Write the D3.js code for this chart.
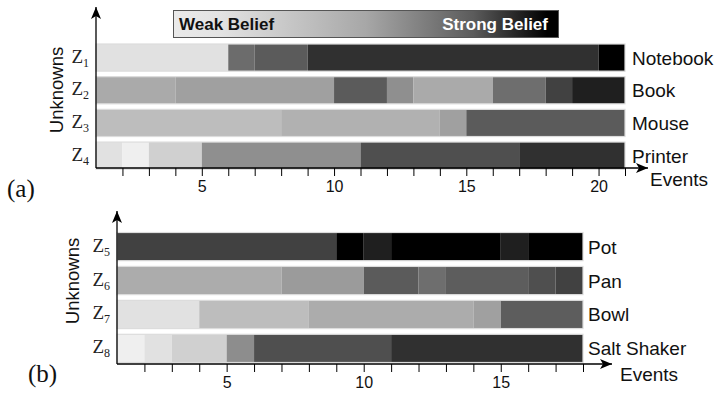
<!DOCTYPE html>
<html>
<head>
<meta charset="utf-8">
<script src="https://cdn.jsdelivr.net/npm/d3@7"></script>
<style>
  html, body { margin: 0; padding: 0; background: #fff; }
  svg { display: block; }
</style>
</head>
<body>
<svg id="chart" width="715" height="400"></svg>
<script>
// ---- Panel (a): office objects ----
const unknownsA = ["1", "2", "3", "4"];
const objectsA = ["Notebook", "Book", "Mouse", "Printer"];
const eventTicksA = [5, 10, 15, 20];
// Each row: event at which each belief segment ends, and the belief held over it
const endsA = [
  [6, 7, 9, 20, 21],
  [4, 10, 12, 13, 16, 18, 19, 21],
  [8, 14, 15, 21],
  [2, 3, 5, 11, 17, 21]
];
const beliefA = [
  [0.06, 0.55, 0.62, 0.80, 1.00],
  [0.29, 0.33, 0.62, 0.40, 0.29, 0.54, 0.73, 0.87],
  [0.21, 0.26, 0.33, 0.62],
  [0.06, 0.00, 0.13, 0.40, 0.67, 0.80]
];

// ---- Panel (b): kitchen objects ----
const unknownsB = ["5", "6", "7", "8"];
const objectsB = ["Pot", "Pan", "Bowl", "Salt Shaker"];
const eventTicksB = [5, 10, 15];
const endsB = [
  [9, 10, 11, 15, 16, 18],
  [7, 10, 12, 13, 16, 17, 18],
  [4, 8, 14, 15, 18],
  [2, 3, 5, 6, 11, 18]
];
const beliefB = [
  [0.73, 1.00, 0.87, 1.00, 0.87, 1.00],
  [0.28, 0.35, 0.62, 0.54, 0.61, 0.67, 0.73],
  [0.06, 0.21, 0.28, 0.33, 0.61],
  [0.00, 0.06, 0.13, 0.41, 0.67, 0.80]
];

const svg = d3.select("#chart");
const sans = "'Liberation Sans', Arial, sans-serif";
const serif = "'Liberation Serif', 'DejaVu Serif', serif";

// belief (0 = weak, 1 = strong) -> gray level
const grayScale = d3.scaleLinear().domain([0, 1]).range([239, 0]);
const beliefColor = b => { const g = Math.round(grayScale(b)); return d3.rgb(g, g, g).toString(); };

const defs = svg.append("defs");
defs.append("marker")
  .attr("id", "arrow")
  .attr("viewBox", "0 0 12 10")
  .attr("refX", 12).attr("refY", 5)
  .attr("markerWidth", 12).attr("markerHeight", 10)
  .attr("markerUnits", "userSpaceOnUse")
  .attr("orient", "auto")
  .append("path")
  .attr("d", "M0,0 L12,5 L0,10 L3,5 Z")
  .attr("fill", "#000");

function drawPanel(cfg) {
  const { unknowns, objects, ends, belief, ticks, maxEvent,
          x0, x1, yTop, axisY, rowTop, rowPitch, barH,
          arrowEnd, letter, letterPos, unknownsPos, labelX, eventsPos } = cfg;
  const g = svg.append("g");

  const x = d3.scaleLinear().domain([1, maxEvent]).range([x0, x1]);
  const y = d3.scaleBand()
    .domain(d3.range(unknowns.length))
    .range([rowTop, rowTop + rowPitch * unknowns.length])
    .paddingInner((rowPitch - barH) / rowPitch)
    .paddingOuter(0)
    .align(0);

  // belief segments for every unknown
  unknowns.forEach((u, i) => {
    const segs = ends[i].map((e, k) => ({ s: k === 0 ? 1 : ends[i][k - 1], e, b: belief[i][k] }));
    const row = g.append("g");
    row.selectAll("rect.seg").data(segs).join("rect")
      .attr("class", "seg")
      .attr("x", d => x(d.s))
      .attr("width", d => x(d.e) - x(d.s))
      .attr("y", y(i))
      .attr("height", y.bandwidth())
      .attr("fill", d => beliefColor(d.b));
    row.append("rect")
      .attr("x", x(1)).attr("y", y(i))
      .attr("width", x(maxEvent) - x(1)).attr("height", y.bandwidth())
      .attr("fill", "none").attr("stroke", "#dcdcdc").attr("stroke-width", 1.2);

    // Z_i label
    const zt = g.append("text")
      .attr("x", x0 - 7).attr("y", y(i) + y.bandwidth() / 2 + 5)
      .attr("text-anchor", "end")
      .attr("font-family", serif).attr("font-size", 19).attr("fill", "#222");
    zt.append("tspan").text("Z");
    zt.append("tspan").attr("font-size", 12).attr("dy", 4).text(u);

    // object name
    g.append("text")
      .attr("x", labelX).attr("y", y(i) + y.bandwidth() / 2 + 7)
      .attr("font-family", sans).attr("font-size", 19).attr("fill", "#111")
      .text(objects[i]);
  });

  // event axis
  const axis = d3.axisBottom(x)
    .tickValues(d3.range(2, maxEvent + 1))
    .tickSize(8)
    .tickPadding(5)
    .tickFormat(d => ticks.includes(d) ? d : "");
  const ax = g.append("g").attr("transform", `translate(0,${axisY})`).call(axis);
  ax.select(".domain").remove();
  ax.selectAll("line").attr("stroke", "#000").attr("stroke-width", 1);
  ax.selectAll("text").attr("font-family", sans).attr("font-size", 16).attr("fill", "#111");

  g.append("line")
    .attr("x1", x0).attr("x2", arrowEnd).attr("y1", axisY).attr("y2", axisY)
    .attr("stroke", "#000").attr("stroke-width", 1.3).attr("marker-end", "url(#arrow)");
  g.append("line")
    .attr("x1", x0).attr("x2", x0).attr("y1", axisY).attr("y2", yTop)
    .attr("stroke", "#000").attr("stroke-width", 1.3).attr("marker-end", "url(#arrow)");

  g.append("text")
    .attr("x", eventsPos[0]).attr("y", eventsPos[1])
    .attr("font-family", sans).attr("font-size", 19).attr("fill", "#111")
    .text("Events");

  g.append("text")
    .attr("transform", `translate(${unknownsPos[0]},${unknownsPos[1]}) rotate(-90)`)
    .attr("text-anchor", "middle")
    .attr("font-family", sans).attr("font-size", 18.5).attr("fill", "#111")
    .text("Unknowns");

  g.append("text")
    .attr("x", letterPos[0]).attr("y", letterPos[1])
    .attr("font-family", serif).attr("font-size", 25).attr("fill", "#111")
    .text(letter);
}

drawPanel({
  unknowns: unknownsA, objects: objectsA, ends: endsA, belief: beliefA,
  ticks: eventTicksA, maxEvent: 21,
  x0: 96, x1: 625, yTop: 7, axisY: 168,
  rowTop: 44, rowPitch: 31.3, barH: 26,
  arrowEnd: 648, letter: "(a)", letterPos: [7, 197],
  unknownsPos: [63, 90], labelX: 632, eventsPos: [650, 186]
});

drawPanel({
  unknowns: unknownsB, objects: objectsB, ends: endsB, belief: beliefB,
  ticks: eventTicksB, maxEvent: 18,
  x0: 117, x1: 583, yTop: 211, axisY: 364,
  rowTop: 232.5, rowPitch: 32.5, barH: 27,
  arrowEnd: 612, letter: "(b)", letterPos: [28, 382],
  unknownsPos: [79, 281], labelX: 588, eventsPos: [620, 381]
});

// belief legend
const grad = defs.append("linearGradient").attr("id", "beliefGrad");
[[0, 0.02], [0.12, 0.05], [0.5, 0.3], [0.78, 0.62], [0.97, 1], [1, 1]].forEach(([o, b]) => {
  grad.append("stop").attr("offset", o).attr("stop-color", beliefColor(b));
});
const legend = svg.append("g");
legend.append("rect")
  .attr("x", 173.5).attr("y", 10.5).attr("width", 385).attr("height", 27)
  .attr("fill", "url(#beliefGrad)").attr("stroke", "#555").attr("stroke-width", 1);
legend.append("text")
  .attr("x", 179).attr("y", 30)
  .attr("font-family", sans).attr("font-weight", "bold").attr("font-size", 17).attr("fill", "#111")
  .text("Weak Belief");
legend.append("text")
  .attr("x", 548).attr("y", 30).attr("text-anchor", "end")
  .attr("font-family", sans).attr("font-weight", "bold").attr("font-size", 17).attr("fill", "#fff")
  .text("Strong Belief");
</script>
</body>
</html>
